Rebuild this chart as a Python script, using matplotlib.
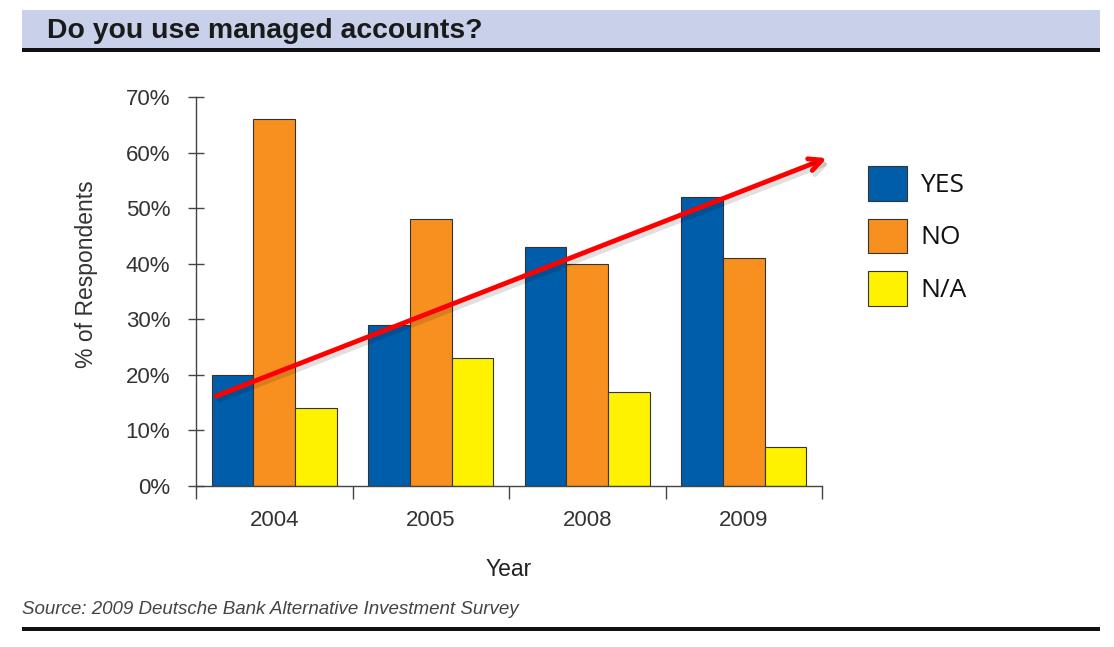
import matplotlib.pyplot as plt
import matplotlib.patheffects as pe
from matplotlib.patches import Rectangle
import numpy as np

years = ["2004", "2005", "2008", "2009"]
yes = [20, 29, 43, 52]
no = [66, 48, 40, 41]
na = [14, 23, 17, 7]
series_names = ["YES", "NO", "N/A"]
series_colors = ["#005da9", "#f7901e", "#fff200"]
yticks = [0, 10, 20, 30, 40, 50, 60, 70]
# trend arrow ends, data coords (x = group index, y = percent)
arrow_start = (-0.37, 16.2)
arrow_end = (3.53, 59.0)

plt.rcParams['font.family'] = ['Liberation Sans', 'DejaVu Sans']

fig = plt.figure(figsize=(11.14, 6.47), dpi=100)
W, H = 1114, 647

def fx(px):
    return px / W

def fy(py):
    return 1 - py / H

# header band and rules
fig.patches.append(Rectangle((fx(22), fy(48)), fx(1100) - fx(22), fy(10) - fy(48),
                             transform=fig.transFigure, facecolor="#c8d0ea", edgecolor="none"))
fig.patches.append(Rectangle((fx(22), fy(52)), fx(1100) - fx(22), fy(48) - fy(52),
                             transform=fig.transFigure, facecolor="#111111", edgecolor="none"))
fig.patches.append(Rectangle((fx(22), fy(631)), fx(1100) - fx(22), fy(627) - fy(631),
                             transform=fig.transFigure, facecolor="#111111", edgecolor="none"))
fig.text(fx(47), fy(31), "Do you use managed accounts?", fontsize=20.4, fontweight="bold",
         color="#1a1a1a", va="center", ha="left")
fig.text(fx(22), fy(609), "Source: 2009 Deutsche Bank Alternative Investment Survey",
         fontsize=13.5, style="italic", color="#444444", va="center", ha="left")

ax = fig.add_axes([fx(196), fy(486), fx(822) - fx(196), fy(97) - fy(486)])

x = np.arange(len(years))
w = 0.266
for i, (vals, name, col) in enumerate(zip([yes, no, na], series_names, series_colors)):
    ax.bar(x + (i - 1) * w, vals, w, color=col, edgecolor="#333333", linewidth=0.8, label=name)

ax.set_xlim(-0.5, 3.5)
ax.set_ylim(0, 70)
ax.set_yticks(yticks)
ax.set_yticklabels([f"{v}%" for v in yticks])
ax.set_xticks(x)
ax.set_xticklabels(years)
ax.tick_params(axis="x", length=0, pad=17, labelsize=16, labelcolor="#333333")
ax.set_xticks(np.arange(-0.5, 4.0, 1.0), minor=True)
ax.tick_params(axis="x", which="minor", direction="out", length=9, width=1, color="#444444")
ax.tick_params(axis="y", direction="inout", length=11, width=1, color="#444444",
               labelsize=16, labelcolor="#333333", pad=13)

for s in ["top", "right"]:
    ax.spines[s].set_visible(False)
for s in ["left", "bottom"]:
    ax.spines[s].set_color("#444444")
    ax.spines[s].set_linewidth(1)

ax.set_ylabel("% of Respondents", fontsize=16.5, color="#333333")
ax.yaxis.set_label_coords(-0.157, 0.545)
ax.set_xlabel("Year", fontsize=16.5, color="#222222", labelpad=20)

ax.annotate("", xy=arrow_end, xytext=arrow_start, annotation_clip=False,
            arrowprops=dict(arrowstyle="->,head_length=0.9,head_width=0.45", color="#ff0000",
                            lw=3.5, shrinkA=0, shrinkB=0,
                            path_effects=[pe.SimpleLineShadow(offset=(2, -3), alpha=0.12),
                                          pe.Normal()]))

leg = ax.legend(loc="upper left", bbox_to_anchor=(fx(868), fy(166)),
                bbox_transform=fig.transFigure, frameon=False, borderpad=0, borderaxespad=0,
                handlelength=1.48, handleheight=1.64, labelspacing=0.68, handletextpad=0.5,
                prop={"family": "Open Sans", "size": 19})
for t in leg.get_texts():
    t.set_color("#111111")

fig.savefig("out.png", dpi=100)
